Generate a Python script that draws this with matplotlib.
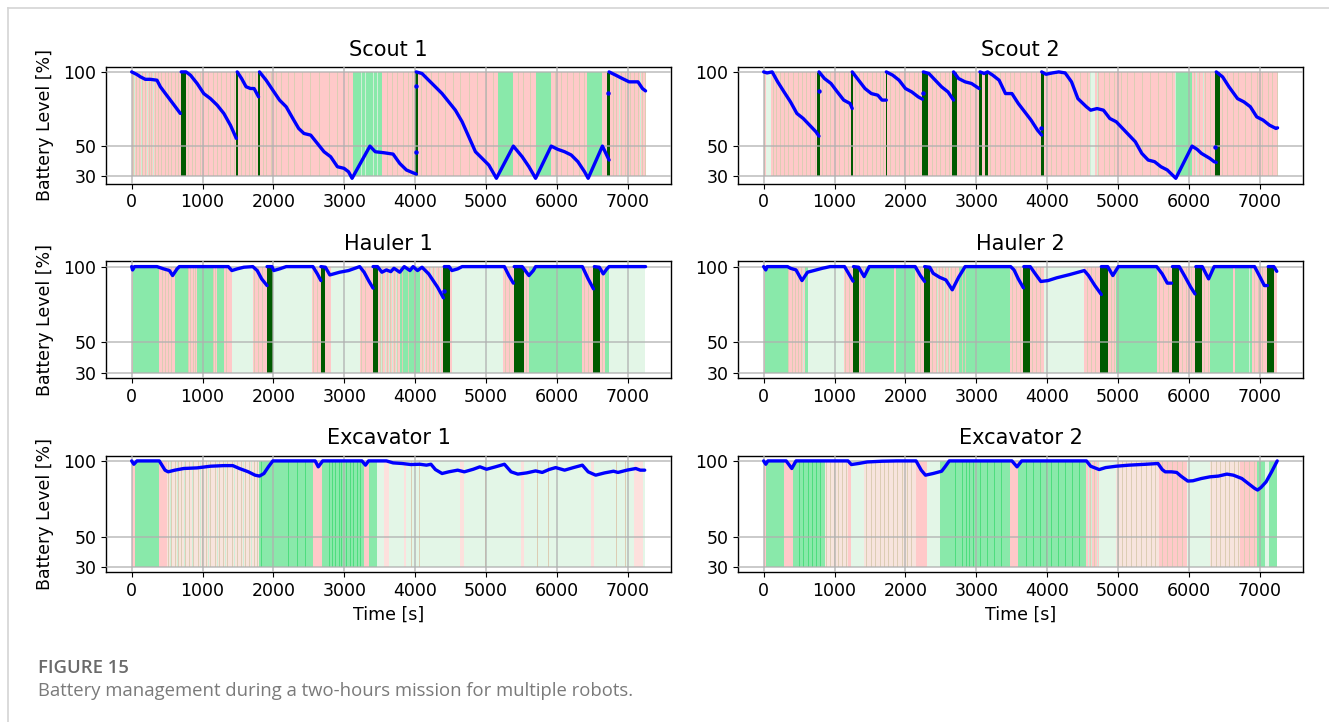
import matplotlib
matplotlib.use('Agg')
import matplotlib.pyplot as plt
from matplotlib.lines import Line2D

# ---------------- data ----------------
robots = ['Scout 1', 'Scout 2', 'Hauler 1', 'Hauler 2', 'Excavator 1', 'Excavator 2']
x_ticks = [0, 1000, 2000, 3000, 4000, 5000, 6000, 7000]
y_ticks = [30, 50, 100]
mission_end = 7250

# background state blocks (start, end, state)
# R = working (pink), L = idle (light green), G = waiting (green), C = charging, X = mixed, P = light pink
s1_blocks = [(0, 7250, 'R'), (3124, 3532, 'G'), (5167, 5387, 'G'), (5701, 5921, 'G'), (6424, 6644, 'G'),
             (695, 765, 'C'), (1470, 1495, 'C'), (1785, 1815, 'C'), (4005, 4035, 'C'), (6715, 6750, 'C')]
s2_blocks = [(0, 7250, 'R'), (40, 110, 'L'), (4620, 4680, 'L'), (5817, 6046, 'G'),
             (760, 800, 'C'), (1235, 1262, 'C'), (1720, 1745, 'C'), (2230, 2320, 'C'), (2665, 2735, 'C'),
             (3045, 3075, 'C'), (3120, 3165, 'C'), (3915, 3950, 'C'), (6375, 6440, 'C')]
h1_blocks = [(0, 25, 'R'), (25, 390, 'G'), (390, 610, 'R'), (610, 798, 'G'), (798, 924, 'R'), (924, 1144, 'G'),
             (1144, 1207, 'R'), (1207, 1301, 'G'), (1301, 1414, 'R'), (1414, 1710, 'L'), (1710, 1911, 'R'),
             (1911, 1992, 'C'), (1992, 2546, 'L'), (2546, 2671, 'R'), (2671, 2734, 'C'), (2734, 2809, 'R'),
             (2809, 3218, 'L'), (3218, 3407, 'R'), (3407, 3476, 'C'), (3476, 3784, 'R'), (3784, 4067, 'G'),
             (4067, 4400, 'R'), (4400, 4494, 'C'), (4494, 4519, 'R'), (4519, 5248, 'L'), (5248, 5399, 'R'),
             (5399, 5544, 'C'), (5544, 5607, 'R'), (5607, 6361, 'G'), (6361, 6518, 'R'), (6518, 6612, 'C'),
             (6612, 6675, 'R'), (6675, 6738, 'G'), (6738, 7250, 'L')]
h2_blocks = [(0, 24, 'R'), (24, 337, 'G'), (337, 589, 'R'), (589, 619, 'G'), (619, 1130, 'L'), (1130, 1262, 'R'),
             (1262, 1340, 'C'), (1340, 1430, 'R'), (1430, 1839, 'G'), (1839, 1863, 'R'), (1863, 2139, 'G'),
             (2139, 2260, 'R'), (2260, 2344, 'C'), (2344, 2752, 'R'), (2752, 3474, 'G'), (3474, 3666, 'R'),
             (3666, 3762, 'C'), (3762, 3954, 'R'), (3954, 4525, 'L'), (4525, 4754, 'R'), (4754, 4856, 'C'),
             (4856, 4976, 'R'), (4976, 5547, 'G'), (5547, 5757, 'R'), (5757, 5865, 'C'), (5865, 6088, 'R'),
             (6088, 6190, 'C'), (6190, 6298, 'R'), (6298, 6629, 'G'), (6629, 6659, 'R'), (6659, 6899, 'G'),
             (6899, 7109, 'R'), (7109, 7200, 'C'), (7200, 7250, 'R')]
e1_blocks = [(0, 44, 'R'), (44, 390, 'G'), (390, 497, 'R'), (497, 1804, 'X'), (1804, 2558, 'G'), (2558, 2684, 'R'),
             (2684, 3281, 'G'), (3281, 3344, 'R'), (3344, 3457, 'G'), (3457, 7250, 'L'),
             (3564, 3627, 'P'), (3847, 3878, 'P'), (4192, 4287, 'R'), (4632, 4695, 'P'), (5261, 5387, 'R'),
             (5500, 5540, 'P'), (6317, 6443, 'R'), (6480, 6520, 'P'), (7084, 7210, 'P')]
e2_blocks = [(0, 36, 'R'), (36, 288, 'G'), (288, 421, 'R'), (421, 859, 'G'), (859, 1190, 'X'), (1190, 1238, 'R'),
             (1238, 1418, 'L'), (1418, 2151, 'X'), (2151, 2302, 'R'), (2302, 2482, 'L'), (2482, 3474, 'G'),
             (3474, 3594, 'R'), (3594, 4555, 'G'), (4555, 4736, 'R'), (4736, 4976, 'L'), (4976, 5577, 'X'),
             (5577, 5968, 'R'), (5968, 6298, 'L'), (6298, 6719, 'X'), (6719, 6959, 'R'), (6959, 7079, 'G'),
             (7079, 7139, 'L'), (7139, 7250, 'G')]

# thin state switches (time of short stripes)
s1_tan = [15, 60, 100, 150, 190, 240, 280, 330, 370, 420, 470, 520, 560, 610, 650, 800, 850, 900, 960, 1010,
          1080, 1150, 1200, 1260, 1330, 1390, 1440, 1540, 1600, 1650, 1700, 1740, 1850, 1900, 1960, 2040, 2110,
          2200, 2290, 2400, 2520, 2650, 2780, 2900, 2990, 3060, 3600, 3680, 3750, 3830, 3900, 3960, 4080, 4150,
          4230, 4320, 4420, 4530, 4640, 4760, 4880, 5000, 5100, 5450, 5530, 5620, 5980, 6060, 6150, 6230, 6320,
          6380, 6790, 6840, 6900, 6960, 7030, 7090, 7140, 7200, 7240]
s1_lgreen = [40, 130, 210, 300, 3230, 3290, 3400, 3460, 6880, 7000, 7170]
s2_tan = [10, 130, 170, 230, 290, 350, 420, 480, 540, 600, 660, 720, 830, 880, 940, 1000, 1070, 1130, 1190,
          1290, 1340, 1400, 1460, 1530, 1580, 1640, 1690, 1790, 1850, 1910, 1980, 2050, 2120, 2180, 2370, 2430,
          2490, 2560, 2620, 2780, 2840, 2910, 2980, 3200, 3260, 3330, 3400, 3470, 3540, 3620, 3700, 3780, 3850,
          3990, 4050, 4130, 4200, 4290, 4380, 4470, 4560, 4720, 4800, 4870, 4950, 5040, 5130, 5230, 5340, 5450,
          5560, 5680, 5770, 6080, 6150, 6230, 6300, 6470, 6540, 6620, 6700, 6790, 6880, 6960, 7040, 7120, 7180, 7240]
s2_lgreen = [4600, 4700, 5800, 6100, 6200]
h1_tan = [430, 470, 520, 560, 800, 830, 860, 890, 1150, 1180, 1330, 1720, 1780, 1840, 2560, 2620, 3240, 3300,
          3500, 3540, 3600, 3650, 3700, 3750, 3820, 3900, 3980, 4100, 4150, 4200, 4250, 4320, 5270, 5330, 5570,
          6380, 6440, 6640]
h1_lgreen = [3520, 3580, 3630, 3680, 3730, 4130, 4230, 4280, 4350]
h2_tan = [350, 400, 440, 480, 530, 1150, 1200, 1360, 1400, 2160, 2200, 2380, 2430, 2470, 2520, 2560, 2600,
          2650, 2700, 2800, 2840, 3500, 3560, 3620, 3790, 3850, 3900, 4560, 4620, 4680, 4900, 4950, 5580, 5640,
          5700, 5900, 5960, 6030, 6220, 6270, 6920, 6980, 7040]
h2_lgreen = [560, 2450, 2540, 2620, 6850]
e1_tan = [520, 560, 610, 660, 700, 760, 810, 870, 930, 990, 1050, 1110, 1170, 1230, 1290, 1350, 1420, 1480,
          1540, 1600, 1660, 1720, 1770, 3940, 4060, 4990, 5720, 5870, 6840, 6960]
e1_lgreen = [540, 640, 740, 850, 960, 1080, 1200, 1320, 1450, 1570, 1690]
e1_bright = [1820, 2200, 2330, 2450, 2780, 2830, 2870, 2920, 2950, 2990, 3030, 3080, 3130, 3180, 3220]
e2_tan = [880, 930, 990, 1050, 1110, 1160, 1450, 1510, 1570, 1640, 1700, 1760, 1820, 1880, 1950, 2020, 2080,
          4600, 4660, 5000, 5060, 5120, 5190, 5260, 5330, 5400, 5470, 5530, 5620, 5690, 5760, 5830, 5900, 6320,
          6380, 6440, 6510, 6570, 6640, 6700, 6780, 6850, 6920]
e2_lgreen = [4580, 4620, 4700]
e2_bright = [500, 560, 620, 680, 740, 800, 2700, 2750, 2800, 2850, 2900, 2960, 3050, 3150, 3250, 3350, 3700,
             3800, 3900, 3980, 4060, 4150, 4250, 4350, 4450]

# battery level segments: list of (times, levels)
s1_battery = [
    ([0, 76, 123, 193, 264, 357, 405, 475, 546, 617, 687],
     [100, 98.2, 96.7, 95, 95, 94.4, 90, 85.5, 81, 76.5, 72]),
    ([700, 767, 830, 924, 1018, 1112, 1207, 1301, 1395, 1477],
     [100, 100, 97.8, 92.2, 85.4, 82, 77.6, 72, 64, 55.2]),
    ([1490, 1552, 1615, 1678, 1728, 1791],
     [100, 95.5, 90, 88.8, 88.8, 83.2]),
    ([1804, 1898, 1992, 2087, 2181, 2275, 2357, 2432, 2527, 2621, 2715, 2809, 2904, 2998, 3061, 3111, 3363,
      3438, 3564, 3690, 3784, 3878, 3972, 4016],
     [100, 94.4, 87.7, 81, 76.5, 68.6, 61.9, 58.5, 57.4, 51.8, 46.2, 42.8, 36.1, 35, 32.7, 28.3, 50,
      46.2, 45.5, 44.6, 38.3, 33.9, 32, 31.2]),
    ([4016, 4098, 4192, 4287, 4381, 4475, 4569, 4664, 4758, 4852, 4947, 5041, 5148, 5387, 5512, 5607, 5701,
      5921, 6015, 6110, 6204, 6298, 6392, 6443, 6644, 6738],
     [100, 98.9, 94.4, 89.9, 85.4, 79.8, 74.2, 66.4, 56.3, 46.2, 41.7, 37.2, 28.3, 50, 42.8, 36.1, 28.3,
      50, 47.8, 46.2, 44, 39.5, 32.7, 28.3, 50, 40.6]),
    ([6738, 6832, 6926, 7021, 7146, 7209, 7253],
     [100, 97.8, 95.5, 93.3, 93.3, 88.8, 87.2]),
]
s1_dots = ([4016, 4016, 6725], [46.2, 90.4, 85.9])
s2_battery = [
    ([0, 48, 120, 198, 288, 379, 469, 559, 649, 739, 781],
     [100, 99.3, 100, 93.3, 86.5, 79.8, 72, 68.6, 64.1, 59.6, 56.7]),
    ([781, 859, 950, 1040, 1130, 1220, 1250],
     [100, 95.5, 92.2, 86.5, 81, 78.7, 75.3]),
    ([1250, 1340, 1430, 1520, 1611, 1671, 1731],
     [100, 94.4, 88.8, 85.4, 84.3, 81, 81]),
    ([1731, 1821, 1911, 2001, 2091, 2181, 2242],
     [100, 97.8, 94.4, 88.8, 86.5, 83.2, 81.6]),
    ([2254, 2332, 2422, 2512, 2602, 2680],
     [100, 98.9, 94.4, 89.9, 86.5, 81]),
    ([2680, 2752, 2843, 2933, 3041],
     [100, 95.5, 93.3, 92.2, 88.8]),
    ([3053, 3113, 3161, 3233, 3323, 3413, 3504, 3594, 3684, 3774, 3864, 3924],
     [100, 98.9, 100, 97.8, 94.4, 85.4, 85.4, 78.7, 73.1, 67.5, 60.8, 57.4]),
    ([3924, 3984, 4075, 4165, 4255, 4345, 4435, 4555, 4615, 4706, 4796, 4886, 4976, 5066, 5156, 5246, 5337,
      5427, 5517, 5607, 5697, 5817, 6046, 6118, 6178, 6298, 6358, 6388],
     [100, 98.4, 99.3, 100, 99.3, 93.3, 82, 76.5, 74.2, 75.3, 74.2, 68.6, 66.4, 61.9, 57.4, 52.9, 45.1,
      40.6, 39.5, 36.1, 33.9, 28.3, 50, 47.8, 45.1, 41.7, 39.5, 39]),
    ([6388, 6478, 6568, 6688, 6778, 6869, 6959, 7049, 7139, 7230, 7253],
     [100, 96.6, 89.9, 82, 79.8, 76.5, 69.7, 67.5, 64.1, 61.9, 62.3]),
]
s2_dots = ([781, 2242, 3912, 6376], [87, 85.9, 61.9, 49.5])
h1_battery = [
    ([0, 13, 40, 358, 452, 534, 578, 641, 673, 1364, 1414, 1490, 1584, 1710, 1772, 1835, 1911],
     [100, 97.8, 100, 100, 98.5, 97.4, 94.1, 98.5, 100, 100, 97.4, 98.5, 99.6, 100, 97.4, 91.9, 87.5]),
    ([1911, 1980, 2005, 2087, 2181, 2558, 2621, 2671],
     [100, 100, 97.4, 98.5, 100, 100, 95.2, 90.8]),
    ([2671, 2734, 2797, 2935, 3061, 3218, 3281, 3344, 3407],
     [100, 99.6, 94.5, 96.3, 97.4, 100, 96.3, 90.8, 85.8]),
    ([3407, 3470, 3532, 3595, 3658, 3702, 3784, 3847, 3928, 3972, 4035, 4098, 4192, 4255, 4318, 4400],
     [100, 100, 96.3, 97.8, 96.7, 98.9, 96.3, 100, 97.4, 100, 97.4, 99.6, 95.2, 90.8, 86.4, 79.4]),
    ([4412, 4480, 4519, 4601, 4664, 5261, 5324, 5387],
     [100, 100, 97.4, 98.5, 100, 100, 94.1, 89.1]),
    ([5399, 5512, 5607, 5669, 5701, 6361, 6443, 6518],
     [100, 100, 94.1, 97.4, 100, 100, 91.9, 85.3]),
    ([6530, 6600, 6656, 6707, 6738, 7253],
     [100, 99.6, 95.2, 98.5, 100, 100]),
]
h1_dots = ([4412], [84.2])
h2_battery = [
    ([0, 30, 48, 337, 379, 457, 541, 619, 709, 829, 938, 1142, 1202, 1262],
     [100, 97.8, 100, 100, 98.9, 97.8, 90.8, 96.3, 97.4, 98.9, 100, 100, 95.2, 90.4]),
    ([1268, 1340, 1418, 1490, 2139, 2212, 2272],
     [100, 99.6, 93.4, 100, 100, 94.1, 90.2]),
    ([2272, 2344, 2392, 2482, 2572, 2662, 2752, 2843, 3486, 3534, 3594, 3666],
     [100, 99.6, 95.6, 93, 91.2, 84.7, 93, 100, 100, 97.8, 91.9, 86]),
    ([3672, 3762, 3834, 3912, 4014, 4135, 4315, 4525, 4585, 4675, 4766],
     [100, 100, 95.2, 90.2, 90.8, 92.6, 94.7, 97.4, 94.1, 87.5, 81.6]),
    ([4766, 4856, 4928, 5006, 5547, 5625, 5697, 5757],
     [100, 100, 94.1, 100, 100, 95.2, 89.1, 89.1]),
    ([5769, 5865, 5938, 6028, 6088],
     [100, 100, 94.1, 86.4, 82]),
    ([6100, 6190, 6280, 6358, 6929, 7007, 7067, 7109],
     [100, 100, 91.9, 100, 100, 93, 87.5, 87.5]),
    ([7121, 7200, 7242],
     [100, 100, 96.9]),
]
h2_dots = ([], [])
e1_battery = [
    ([0, 31, 75, 390, 471, 515, 610, 735, 924, 1112, 1301, 1427, 1521, 1647, 1741, 1804, 1867, 1930, 1992,
      2590, 2634, 2696, 3250, 3300, 3344, 3595, 3690, 3815, 3941, 4067, 4161, 4224, 4287, 4381, 4475, 4601,
      4695, 4821, 4915, 5009, 5135, 5261, 5355, 5450, 5575, 5701, 5795, 5889, 5984, 6110, 6235, 6361, 6443,
      6549, 6675, 6801, 6864, 6989, 7115, 7178, 7241],
     [100, 97.8, 100, 100, 93.9, 92.8, 93.9, 95, 95.4, 96.5, 96.9, 96.9, 95, 92.8, 90.6, 90, 91.7, 96.1, 100,
      100, 96.1, 100, 100, 97.2, 100, 100, 98.7, 98.3, 97.6, 97.8, 97.2, 97.8, 94.3, 91.7, 92.8, 93.9,
      92.8, 94.5, 96.1, 94.5, 96.1, 97.8, 92.8, 91.3, 92.1, 93.4, 92.4, 94.3, 95.6, 93.9, 95.6, 97.2, 92.8,
      90.6, 92.1, 93.2, 92.4, 93.9, 95, 93.9, 93.9]),
]
e1_dots = ([], [])
e2_battery = [
    ([0, 30, 60, 318, 397, 457, 1190, 1238, 1340, 1460, 1671, 1881, 2151, 2224, 2284, 2392, 2512, 2560, 2620,
      3504, 3576, 3642, 4555, 4615, 4736, 4826, 4976, 5156, 5397, 5565, 5625, 5667, 5757, 5829, 5889, 5986,
      6058, 6178, 6298, 6418, 6538, 6629, 6749, 6851, 6929, 6971, 7019, 7091, 7169, 7248],
     [100, 97.8, 100, 100, 95, 100, 100, 97.6, 98.3, 99.3, 99.8, 100, 100, 93.9, 90.6, 91.7, 93.2, 96.1, 100,
      100, 96.1, 100, 100, 96.5, 94.3, 95.6, 96.5, 97.2, 97.8, 98.3, 94.3, 92.8, 92.8, 92.4, 90, 86.7,
      86.9, 88.4, 89.5, 90, 91.3, 90.6, 88.4, 84.7, 81.9, 80.8, 82.5, 86.2, 92.8, 100]),
]
e2_dots = ([], [])

blocks = [s1_blocks, s2_blocks, h1_blocks, h2_blocks, e1_blocks, e2_blocks]
tans = [s1_tan, s2_tan, h1_tan, h2_tan, e1_tan, e2_tan]
lgreens = [s1_lgreen, s2_lgreen, h1_lgreen, h2_lgreen, e1_lgreen, e2_lgreen]
brights = [[], [], [], [], e1_bright, e2_bright]
batteries = [s1_battery, s2_battery, h1_battery, h2_battery, e1_battery, e2_battery]
dots = [s1_dots, s2_dots, h1_dots, h2_dots, e1_dots, e2_dots]

# ---------------- style ----------------
state_colors = {'R': '#ffc9c9', 'L': '#e3f6e7', 'G': '#89e9aa', 'C': '#005a00', 'X': '#f7e4dd', 'P': '#fde0dd'}
tan_color = '#dccdb4'
lgreen_color = '#cfeed7'
bright_color = '#4edd7e'
stripe_w = 14
band = (30, 70)

plt.rcParams['font.family'] = 'DejaVu Sans'
plt.rcParams['font.size'] = 12.5

fig = plt.figure(figsize=(13.29, 7.22), dpi=100)
W, H = 1329.0, 722.0
col_left = [106, 738]
ax_w = 565
row_top = [66.7, 261.3, 455.6]
ax_h = 116.8

for i, name in enumerate(robots):
    r, c = divmod(i, 2)
    ax = fig.add_axes([col_left[c] / W, 1 - (row_top[r] + ax_h) / H, ax_w / W, ax_h / H])
    order = ['R', 'X', 'L', 'G', 'P']
    for code in order:
        segs = [(a, b - a) for (a, b, s) in blocks[i] if s == code]
        if segs:
            ax.broken_barh(segs, band, facecolors=state_colors[code], lw=0, zorder=1)
    for lst, col in ((tans[i], tan_color), (lgreens[i], lgreen_color), (brights[i], bright_color)):
        if lst:
            ax.broken_barh([(t, stripe_w) for t in lst], band, facecolors=col, lw=0, zorder=1.2)
    csegs = [(a, b - a) for (a, b, s) in blocks[i] if s == 'C']
    if csegs:
        ax.broken_barh(csegs, band, facecolors=state_colors['C'], lw=0, zorder=1.5)
    ax.grid(True, color='#b0b0b0', lw=1.1, alpha=0.85, zorder=2)
    ax.set_axisbelow(False)
    for seg_t, seg_v in batteries[i]:
        ax.plot(seg_t, seg_v, color='blue', lw=2.4, solid_capstyle='round', zorder=3)
    if dots[i][0]:
        ax.plot(dots[i][0], dots[i][1], 'o', color='blue', ms=2.2, zorder=3)
    ax.set_xlim(-362, 7612)
    ax.set_ylim(26.5 if i >= 2 else 24.8, 103.5)
    ax.set_xticks(x_ticks)
    ax.set_yticks(y_ticks)
    ax.set_title(name, fontsize=15, pad=8)
    if c == 0:
        ax.set_ylabel('Battery Level [%]', fontsize=12.5, labelpad=7)
    if r == 2:
        ax.set_xlabel('Time [s]', fontsize=12.5)
    for sp in ax.spines.values():
        sp.set_linewidth(1.0)

# frame lines of the page
fig.add_artist(Line2D([8 / W, 1], [1 - 8 / H, 1 - 8 / H], color='#d4d4d4', lw=1.2, transform=fig.transFigure))
fig.add_artist(Line2D([8 / W, 8 / W], [0, 1 - 8 / H], color='#d4d4d4', lw=1.2, transform=fig.transFigure))

fig.text(38 / W, 1 - 668 / H, 'FIGURE 15', fontsize=13.3, color='#6a6a6a', fontweight='semibold',
         family='Open Sans', va='center', ha='left')
fig.text(38 / W, 1 - 691 / H, 'Battery management during a two-hours mission for multiple robots.',
         fontsize=13.3, color='#7a7a7a', family='Open Sans', va='center', ha='left')

fig.savefig('out.png', dpi=100)
